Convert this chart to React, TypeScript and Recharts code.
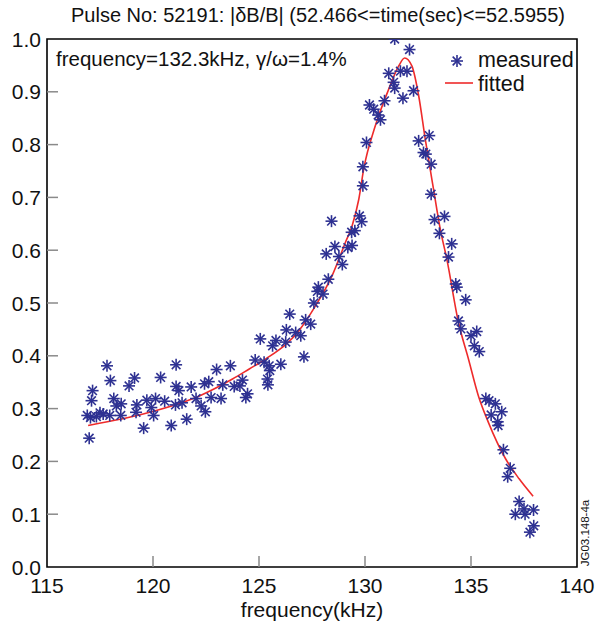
import React from "react";
import { ComposedChart, Scatter, Line, XAxis, YAxis, ReferenceArea } from "recharts";

// measured |dB/B| points
const measuredFreq = [
  116.99, 116.9, 117.05, 117.1, 117.15, 117.33, 117.5, 117.65, 117.96, 117.83, 117.99, 118.15, 118.27, 118.5,
  118.48, 118.87, 119.13, 119.24, 119.2, 119.56, 119.71, 119.92, 120.03, 120.12, 120.36, 120.55, 120.86,
  121.09, 121.09, 121.22, 121.06, 121.37, 121.59, 121.8, 122.03, 122.27, 122.47, 122.43, 122.63, 122.74,
  123.0, 123.21, 123.29, 123.65, 123.83, 124.1, 124.22, 124.38,
  124.46, 124.82, 125.06, 125.24, 125.4, 125.42, 125.51, 125.48, 125.64, 125.8, 126.03, 126.26, 126.29,
  126.45, 126.73, 126.97, 127.12, 127.2, 127.44, 127.59, 127.75, 127.8, 128.02, 128.27, 128.17, 128.42,
  128.58, 128.77, 128.93, 129.19, 129.39, 129.37, 129.52, 129.74, 129.84,
  131.4, 132.1, 131.12, 131.35, 131.4, 131.67, 131.98, 131.79, 132.29, 130.21, 130.41, 130.62, 130.73,
  130.92, 130.07, 129.9, 129.9, 132.53, 133.03, 132.76, 132.87, 133.12, 133.12, 133.28, 133.75,
  133.51, 134.09, 133.94, 134.28, 134.33, 134.75, 134.41, 134.52, 135.0, 135.27, 135.16, 135.39,
  135.7, 135.85, 136.15, 135.95, 136.45, 136.28, 136.26, 136.53, 136.85, 136.73, 137.27, 137.5, 137.09,
  137.95, 137.55, 137.96, 137.78,
];
const measuredAmp = [
  0.244, 0.287, 0.283, 0.315, 0.334, 0.285, 0.292, 0.29, 0.287, 0.381, 0.353, 0.319, 0.305, 0.309,
  0.287, 0.343, 0.358, 0.307, 0.293, 0.263, 0.316, 0.302, 0.287, 0.319, 0.359, 0.314, 0.268,
  0.383, 0.342, 0.334, 0.307, 0.311, 0.28, 0.341, 0.319, 0.305, 0.294, 0.347, 0.351, 0.321,
  0.374, 0.319, 0.345, 0.381, 0.342, 0.343, 0.354, 0.321,
  0.328, 0.392, 0.432, 0.388, 0.356, 0.345, 0.372, 0.381, 0.419, 0.429, 0.384, 0.426, 0.449,
  0.479, 0.444, 0.438, 0.398, 0.468, 0.46, 0.5, 0.522, 0.53, 0.517, 0.545, 0.593, 0.655,
  0.607, 0.588, 0.573, 0.605, 0.609, 0.634, 0.637, 0.665, 0.654,
  1.0, 0.98, 0.935, 0.918, 0.907, 0.939, 0.939, 0.888, 0.902, 0.875, 0.867, 0.856, 0.847,
  0.883, 0.804, 0.758, 0.722, 0.807, 0.817, 0.785, 0.782, 0.763, 0.706, 0.658, 0.664,
  0.632, 0.612, 0.587, 0.536, 0.53, 0.506, 0.466, 0.451, 0.438, 0.446, 0.419, 0.408,
  0.319, 0.315, 0.309, 0.288, 0.294, 0.268, 0.275, 0.222, 0.187, 0.171, 0.124, 0.11, 0.1,
  0.108, 0.1, 0.078, 0.066,
];

// fitted resonance curve
const fitFreq = [
  116.94, 119.84, 122.19, 123.75, 124.54, 125.32, 126.89, 127.67, 128.45, 129.08, 129.39, 129.71, 129.94,
  130.49, 131.12, 131.59, 131.87, 132.21, 132.53, 132.84, 133.23, 133.55, 133.86, 134.41, 134.88, 135.35,
  135.82, 136.63, 137.27, 137.93,
];
const fitAmp = [
  0.268, 0.293, 0.324, 0.356, 0.375, 0.394, 0.448, 0.495, 0.552, 0.615, 0.646, 0.697, 0.754,
  0.836, 0.905, 0.949, 0.964, 0.949, 0.893, 0.811, 0.716, 0.64, 0.583, 0.463, 0.394, 0.324,
  0.274, 0.205, 0.167, 0.134,
];

const xTicks = [115, 120, 125, 130, 135, 140];
const yTicks = [0, 0.1, 0.2, 0.3, 0.4, 0.5, 0.6, 0.7, 0.8, 0.9, 1.0];

const measured = measuredFreq.map((f, i) => ({ f, v: measuredAmp[i] }));
const fitted = fitFreq.map((f, i) => ({ f, v: fitAmp[i] }));

const BLUE = "#2e3192";
const RED = "#ee2b2b";
const FONT = "'Liberation Sans', Arial, Helvetica, sans-serif";

function Star({ cx, cy, r = 6 }: { cx: number; cy: number; r?: number }) {
  const d = r * 0.72;
  return (
    <g stroke={BLUE} strokeWidth={1.6}>
      <line x1={cx - r} y1={cy} x2={cx + r} y2={cy} />
      <line x1={cx} y1={cy - r} x2={cx} y2={cy + r} />
      <line x1={cx - d} y1={cy - d} x2={cx + d} y2={cy + d} />
      <line x1={cx - d} y1={cy + d} x2={cx + d} y2={cy - d} />
    </g>
  );
}

function XTick(props: any) {
  const { x, y, payload } = props;
  const edge = payload.value === 115 || payload.value === 140;
  return (
    <g>
      {!edge && <line x1={x} x2={x} y1={y} y2={y - 11} stroke="#8a8a8a" strokeWidth={1.5} />}
      <text x={x} y={y + 26} textAnchor="middle" fontSize={21} fontFamily={FONT} fill="#111">
        {payload.value}
      </text>
    </g>
  );
}

function YTick(props: any) {
  const { x, y, payload } = props;
  const edge = payload.value === 0 || payload.value === 1;
  return (
    <g>
      {!edge && <line x1={x} x2={x + 11} y1={y} y2={y} stroke="#8a8a8a" strokeWidth={1.5} />}
      <text x={x - 6} y={y + 7.5} textAnchor="end" fontSize={21} fontFamily={FONT} fill="#111">
        {payload.value.toFixed(1)}
      </text>
    </g>
  );
}

export default function App() {
  return (
    <div style={{ position: "absolute", left: 0, top: 0, width: 599, height: 628, background: "#fff" }}>
      <ComposedChart width={599} height={628} margin={{ top: 39, right: 22, bottom: 0, left: 0 }}>
        <XAxis
          type="number"
          dataKey="f"
          domain={[115, 140]}
          ticks={xTicks}
          axisLine={false}
          tickLine={false}
          tickSize={0}
          tickMargin={0}
          height={61}
          tick={<XTick />}
          allowDataOverflow
        />
        <YAxis
          type="number"
          dataKey="v"
          domain={[0, 1]}
          ticks={yTicks}
          axisLine={false}
          tickLine={false}
          tickSize={0}
          tickMargin={0}
          width={47}
          tick={<YTick />}
          allowDataOverflow
        />
        <ReferenceArea x1={115} x2={140} y1={0} y2={1} fill="none" stroke="#000" strokeWidth={1.6} fillOpacity={0} />
        <Scatter
          data={measured}
          dataKey="v"
          isAnimationActive={false}
          shape={(p: any) => <Star cx={p.cx} cy={p.cy} />}
        />
        <Line
          data={fitted}
          dataKey="v"
          type="monotone"
          stroke={RED}
          strokeWidth={1.6}
          dot={false}
          activeDot={false}
          isAnimationActive={false}
        />
      </ComposedChart>
      <svg
        width={599}
        height={628}
        style={{ position: "absolute", left: 0, top: 0, pointerEvents: "none" }}
        fontFamily={FONT}
      >
        <text x={318} y={22} textAnchor="middle" fontSize={20} fill="#111">
          Pulse No: 52191: |δB/B| (52.466&lt;=time(sec)&lt;=52.5955)
        </text>
        <text x={56} y={66} fontSize={20.5} fill="#111">
          frequency=132.3kHz, γ/ω=1.4%
        </text>
        <Star cx={457} cy={61} />
        <text x={478} y={67} fontSize={21.5} fill="#111">measured</text>
        <line x1={445} x2={473} y1={83} y2={83} stroke={RED} strokeWidth={1.6} />
        <text x={478} y={91} fontSize={21.5} fill="#111">fitted</text>
        <text x={312} y={617} textAnchor="middle" fontSize={21} fill="#111">frequency(kHz)</text>
        <text
          x={0}
          y={0}
          fontSize={11.5}
          fill="#111"
          textAnchor="middle"
          transform="translate(589 533) rotate(-90)"
        >
          JG03.148-4a
        </text>
      </svg>
    </div>
  );
}
